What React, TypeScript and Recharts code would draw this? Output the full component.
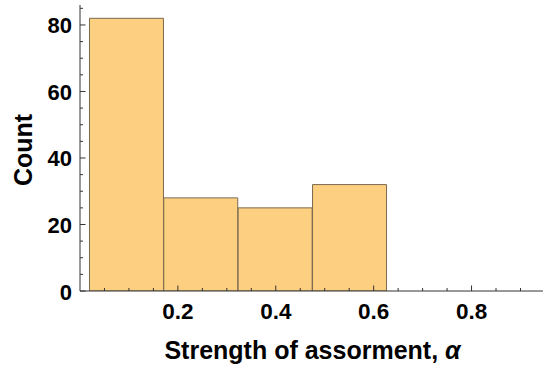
import { ComposedChart, Bar, XAxis, YAxis, Label } from "recharts";

// histogram bins (edges) and counts
const binStarts = [0.0195, 0.171, 0.323, 0.475];
const binEnds = [0.171, 0.323, 0.475, 0.627];
const counts = [82, 28, 25, 32];

const xTicks = [0.05, 0.1, 0.15, 0.2, 0.25, 0.3, 0.35, 0.4, 0.45, 0.5, 0.55, 0.6, 0.65, 0.7, 0.75, 0.8, 0.85, 0.9];
const xMajor = [0.2, 0.4, 0.6, 0.8];
const yTicks = [0, 5, 10, 15, 20, 25, 30, 35, 40, 45, 50, 55, 60, 65, 70, 75, 80, 85];
const yMajor = [0, 20, 40, 60, 80];

const data = counts.map((c, i) => ({
  mid: (binStarts[i] + binEnds[i]) / 2,
  count: c,
}));

const FONT = "'Liberation Sans', Arial, sans-serif";
const AXIS = "#333333";

const isMajor = (list: number[], v: number) => list.some((m) => Math.abs(m - v) < 1e-9);

function XTick({ x, y, payload }: any) {
  const major = isMajor(xMajor, payload.value);
  return (
    <g>
      <line x1={x} x2={x} y1={y} y2={y - (major ? 5.5 : 3)} stroke={AXIS} strokeWidth={1} />
      {major && (
        <text x={x} y={y + 27.5} textAnchor="middle" fontFamily={FONT} fontWeight="bold" fontSize={22.5} fill="#000">
          {payload.value.toFixed(1)}
        </text>
      )}
    </g>
  );
}

function YTick({ x, y, payload }: any) {
  const major = isMajor(yMajor, payload.value);
  return (
    <g>
      <line x1={x} x2={x + (major ? 5.5 : 3)} y1={y} y2={y} stroke={AXIS} strokeWidth={1} />
      {major && (
        <text x={x - 8} y={y + 8.5} textAnchor="end" fontFamily={FONT} fontWeight="bold" fontSize={22} fill="#000">
          {payload.value}
        </text>
      )}
    </g>
  );
}

export default function App() {
  return (
    <div style={{ position: "absolute", left: 0, top: 0 }}>
      <ComposedChart
        width={544}
        height={369}
        data={data}
        margin={{ top: 5, right: 1, left: 0, bottom: 0 }}
        barCategoryGap={0}
        barGap={0}
      >
        <Bar dataKey="count" fill="#FDCF80" stroke="#7b6a4f" strokeWidth={1} isAnimationActive={false} />
        <XAxis
          dataKey="mid"
          type="number"
          domain={[0, 0.946]}
          ticks={xTicks}
          interval={0}
          allowDataOverflow
          height={78}
          tickSize={0}
          tickMargin={0}
          tickLine={false}
          axisLine={{ stroke: AXIS }}
          tick={<XTick />}
        >
          <Label
            content={({ viewBox }: any) => (
              <text
                x={viewBox.x + viewBox.width / 2 + 1}
                y={viewBox.y + 68}
                textAnchor="middle"
                fontFamily={FONT}
                fontWeight="bold"
                fontSize={25}
                fill="#000"
              >
                Strength of assorment, <tspan fontStyle="italic">α</tspan>
              </text>
            )}
          />
        </XAxis>
        <YAxis
          type="number"
          domain={[0, 86]}
          ticks={yTicks}
          interval={0}
          allowDataOverflow
          width={80}
          tickSize={0}
          tickMargin={0}
          tickLine={false}
          axisLine={{ stroke: AXIS }}
          tick={<YTick />}
        >
          <Label
            content={({ viewBox }: any) => {
              const cx = 32;
              const cy = viewBox.y + viewBox.height / 2 + 2;
              return (
                <text
                  x={cx}
                  y={cy}
                  transform={`rotate(-90 ${cx} ${cy})`}
                  textAnchor="middle"
                  fontFamily={FONT}
                  fontWeight="bold"
                  fontSize={25}
                  fill="#000"
                >
                  Count
                </text>
              );
            }}
          />
        </YAxis>
      </ComposedChart>
    </div>
  );
}
